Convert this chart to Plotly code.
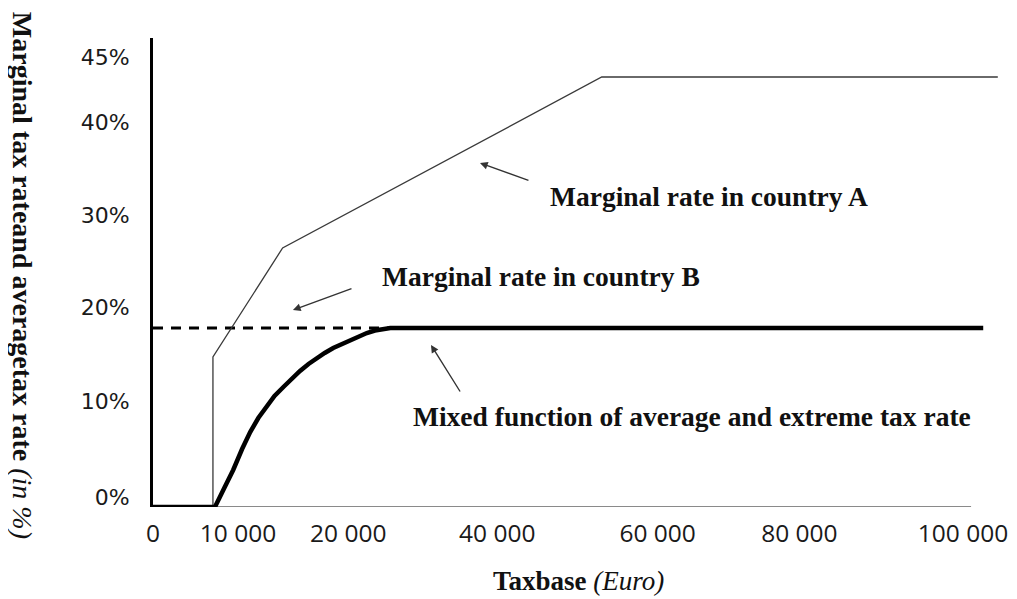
import plotly.graph_objects as go

# ---- data (schematic chart; x in Euro-scale units, y in % units as drawn) ----
country_a_x = [7400, 7400, 16000, 55400, 104300]
country_a_y = [0.0, 15.0, 25.9, 43.0, 43.0]

country_b_x = [0, 29300]
country_b_y = [17.9, 17.9]

mixed_x = [0, 7650, 8800, 9900, 11000, 12000, 13000, 14000, 15000, 16100, 17100, 18150,
           19200, 20200, 21200, 22250, 23300, 24300, 25400, 26400, 27400, 28400, 29300, 102500]
mixed_y = [0.0, 0.0, 1.9, 3.7, 5.8, 7.5, 8.9, 10.1, 11.1, 12.0, 12.8, 13.6,
           14.3, 14.9, 15.4, 15.9, 16.3, 16.7, 17.1, 17.4, 17.65, 17.8, 17.9, 17.9]

x_tick_vals = [0, 10500, 24100, 42500, 62300, 79800, 100000]
x_tick_text = ["0", "10 000", "20 000", "40 000", "60 000", "80 000", "100 000"]
y_tick_vals = [1.0, 10.6, 20.0, 29.2, 38.5, 45.0]
y_tick_text = ["0%", "10%", "20%", "30%", "40%", "45%"]

labels = ["Marginal rate in country A", "Marginal rate in country B",
          "Mixed function of average and extreme tax rate"]
label_x = [68600, 47900, 66500]
label_y = [31.1, 23.1, 9.1]
arrow_head_x = [40370, 17280, 34320]
arrow_head_y = [34.4, 19.7, 16.2]
arrow_tail_x = [46540, 24690, 38030]
arrow_tail_y = [32.6, 21.9, 11.4]

fig = go.Figure()

fig.add_trace(go.Scatter(x=country_b_x, y=country_b_y, mode="lines",
                         line=dict(color="black", width=2.8, dash="10px,8px"),
                         showlegend=False, hoverinfo="skip", cliponaxis=False))
fig.add_trace(go.Scatter(x=country_a_x, y=country_a_y, mode="lines",
                         line=dict(color="#3a3a3a", width=1.3),
                         showlegend=False, hoverinfo="skip", cliponaxis=False))
fig.add_trace(go.Scatter(x=mixed_x, y=mixed_y, mode="lines",
                         line=dict(color="black", width=4.5),
                         showlegend=False, hoverinfo="skip", cliponaxis=False))

# x-axis baseline (grey)
fig.add_shape(type="line", xref="x", yref="y", x0=0, x1=101000, y0=0, y1=0,
              line=dict(color="#8a8a8a", width=2), layer="below")

serif = "Liberation Serif, Times New Roman, serif"
for t, x, y in zip(labels, label_x, label_y):
    fig.add_annotation(x=x, y=y, xref="x", yref="y", text="<b>" + t + "</b>",
                       showarrow=False, font=dict(family=serif, size=27.5, color="#111"),
                       xanchor="center", yanchor="middle")
for hx, hy, tx, ty in zip(arrow_head_x, arrow_head_y, arrow_tail_x, arrow_tail_y):
    fig.add_annotation(x=hx, y=hy, ax=tx, ay=ty, xref="x", yref="y", axref="x", ayref="y",
                       text="", showarrow=True, arrowhead=2, arrowsize=1.1,
                       arrowwidth=1.4, arrowcolor="#333")

# axis titles (paper coords relative to the plot area)
fig.add_annotation(xref="paper", yref="paper", x=425 / 864, y=-0.158,
                   text="<b>Taxbase</b> <i>(Euro)</i>", showarrow=False,
                   font=dict(family=serif, size=27, color="#111"),
                   xanchor="center", yanchor="middle")
fig.add_annotation(xref="paper", yref="paper", x=-131 / 864, y=0.495,
                   text="<b>Marginal tax rateand averagetax rate</b> <i>(in %)</i>",
                   showarrow=False, textangle=90,
                   font=dict(family=serif, size=28, color="#111"),
                   xanchor="center", yanchor="middle")

x_tick_font = dict(family="Liberation Sans Narrow, Open Sans, sans-serif", size=24.5, color="#1a1a1a")
y_tick_font = dict(family="DejaVu Sans, sans-serif", size=22, color="#1a1a1a")
fig.update_xaxes(range=[0, 106670], showgrid=False, zeroline=False, showline=False,
                 tickmode="array", tickvals=x_tick_vals, ticktext=x_tick_text,
                 ticks="", ticklabelstandoff=9, tickfont=x_tick_font,
                 automargin=False, fixedrange=True)
fig.update_yaxes(range=[0, 46.9], showgrid=False, zeroline=False, showline=True,
                 linecolor="black", linewidth=3,
                 tickmode="array", tickvals=y_tick_vals, ticktext=y_tick_text,
                 ticks="", ticklabelstandoff=16, tickfont=y_tick_font,
                 automargin=False, fixedrange=True)

# the page body adds an 8px offset, so the figure is 8px smaller with shifted margins
fig.update_layout(width=1009, height=591, margin=dict(l=145, r=0, t=30, b=92, autoexpand=False),
                  plot_bgcolor="white", paper_bgcolor="white", showlegend=False)

fig.write_html("out.html")
